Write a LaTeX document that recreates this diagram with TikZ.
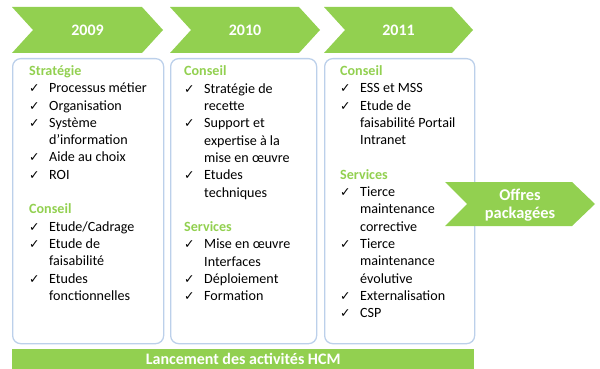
\documentclass[tikz,border=0pt]{standalone}
\usepackage{fontspec}
\setmainfont{Carlito}
\newfontfamily\chkf{DejaVu Sans}
\definecolor{gr}{HTML}{92D050}
\definecolor{bl}{HTML}{BCD0EA}
\newcommand\ck{\makebox[20pt][l]{\chkf\fontsize{12.5}{12}\selectfont ✓}}
\newcommand\ind{\hspace*{20pt}}
\newcommand\hd[1]{\textcolor{gr}{\bfseries #1}}
\tikzset{
  chev/.style={fill=gr},
  yr/.style={font=\bfseries\fontsize{16}{18}\selectfont, text=white, inner sep=0pt},
  boxst/.style={draw=bl, line width=1.3pt, rounded corners=8pt, anchor=north west, inner sep=0pt, minimum height=285pt},
  lst/.style={anchor=base west, inner sep=0pt, font=\fontsize{14.1}{17.3}\selectfont}
}
\begin{document}
\begin{tikzpicture}[x=1pt,y=-1pt]
\useasboundingbox (0,0) rectangle (600,369);
% chevrons
\fill[chev] (12,7) -- (142,7) -- (163,30) -- (142,53) -- (12,53) -- (33,30) -- cycle;
\fill[chev] (170,7) -- (299,7) -- (320,30) -- (299,53) -- (170,53) -- (191,30) -- cycle;
\fill[chev] (324,7) -- (452,7) -- (473,30) -- (452,53) -- (324,53) -- (345,30) -- cycle;
\node[yr] (y1) at (87.5,30) {2009};
\node[yr] (y2) at (245,30) {2010};
\node[yr] (y3) at (398.5,30) {2011};
% boxes
\node[boxst, minimum width=151pt] (b1) at (12,58) {};
\node[boxst, minimum width=146pt] (b2) at (170,58) {};
\node[boxst, minimum width=150pt] (b3) at (324,58) {};
% lists
\node[lst] (l1) at (29,75.5) {\begin{tabular}[t]{@{}l@{}}
\hd{Stratégie}\\
\ck Processus métier\\
\ck Organisation\\
\ck Système\\
\ind d’information\\
\ck Aide au choix\\
\ck ROI\\[17.3pt]
\hd{Conseil}\\
\ck Etude/Cadrage\\
\ck Etude de\\
\ind faisabilité\\
\ck Etudes\\
\ind fonctionnelles
\end{tabular}};
\node[lst] (l2) at (184,76) {\begin{tabular}[t]{@{}l@{}}
\hd{Conseil}\\
\ck Stratégie de\\
\ind recette\\
\ck Support et\\
\ind expertise à la\\
\ind mise en œuvre\\
\ck Etudes\\
\ind techniques\\[17.3pt]
\hd{Services}\\
\ck Mise en œuvre\\
\ind Interfaces\\
\ck Déploiement\\
\ck Formation
\end{tabular}};
\node[lst] (l3) at (340,75.5) {\begin{tabular}[t]{@{}l@{}}
\hd{Conseil}\\
\ck ESS et MSS\\
\ck Etude de\\
\ind faisabilité Portail\\
\ind Intranet\\[17.3pt]
\hd{Services}\\
\ck Tierce\\
\ind maintenance\\
\ind corrective\\
\ck Tierce\\
\ind maintenance\\
\ind évolutive\\
\ck Externalisation\\
\ck CSP
\end{tabular}};
% offres chevron
\fill[chev] (445,182) -- (572,182) -- (595,204) -- (572,226) -- (445,226) -- (467,204) -- cycle;
\node[yr, align=center, font=\bfseries\fontsize{16.4}{18}\selectfont] (of) at (520,205) {Offres\\packagées};
% bottom bar
\node[fill=gr, anchor=north west, minimum width=462pt, minimum height=20pt, inner sep=0pt,
  font=\bfseries\fontsize{16}{16}\selectfont, text=white] (bar) at (12,349) {Lancement des activités HCM};
\end{tikzpicture}
\end{document}
